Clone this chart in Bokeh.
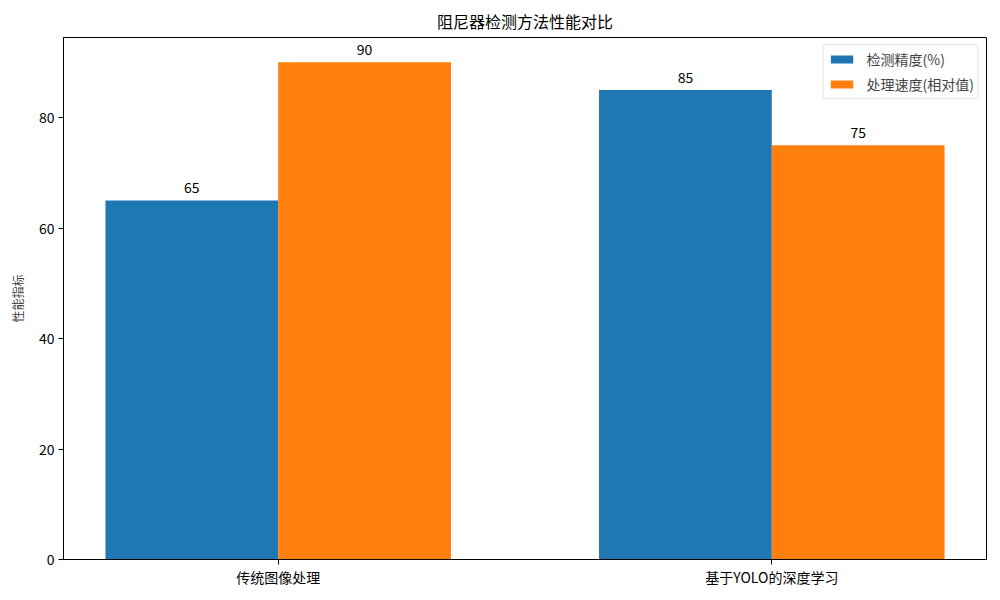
from bokeh.plotting import figure
from bokeh.models import ColumnDataSource, Range1d, FixedTicker, LabelSet, Legend, LegendItem
from bokeh.embed import file_html
from bokeh.resources import INLINE
from bokeh.core.properties import value

categories = ["传统图像处理", "基于YOLO的深度学习"]
accuracy = [65, 85]
speed = [90, 75]
series_names = ["检测精度(%)", "处理速度(相对值)"]
title_text = "阻尼器检测方法性能对比"
ylabel = "性能指标"
yticks = [0, 20, 40, 60, 80]

FONT = "Noto Sans CJK SC"
bw = 0.35
idx = list(range(len(categories)))

src_a = ColumnDataSource(dict(x=[i - bw / 2 for i in idx], y=accuracy, t=[str(v) for v in accuracy]))
src_s = ColumnDataSource(dict(x=[i + bw / 2 for i in idx], y=speed, t=[str(v) for v in speed]))

p = figure(width=992, height=592, output_backend="svg", toolbar_location=None,
           x_range=Range1d(-0.435, 1.435), y_range=Range1d(0, 94.5),
           min_border_left=63, min_border_right=6, min_border_top=37, min_border_bottom=33)

p.title.text = title_text
p.title.align = "center"
p.title.text_font = FONT
p.title.text_font_size = "16px"
p.title.text_font_style = "normal"
p.title.text_color = "black"

r1 = p.vbar(x="x", top="y", width=bw, source=src_a, fill_color="#1f77b4", line_color=None)
r2 = p.vbar(x="x", top="y", width=bw, source=src_s, fill_color="#ff7f0e", line_color=None)

for s in (src_a, src_s):
    p.add_layout(LabelSet(x="x", y="y", text="t", source=s, text_align="center",
                          text_baseline="bottom", y_offset=7, text_font=value(FONT),
                          text_font_size="14px", text_color="black"))

p.xgrid.visible = False
p.ygrid.visible = False
p.outline_line_color = "black"
p.outline_line_width = 1
p.outline_line_alpha = 1

p.xaxis.ticker = FixedTicker(ticks=idx)
p.xaxis.major_label_overrides = {i: c for i, c in enumerate(categories)}
p.yaxis.ticker = FixedTicker(ticks=yticks)
p.yaxis.axis_label = ylabel
for ax in (p.xaxis[0], p.yaxis[0]):
    ax.major_label_text_font = FONT
    ax.major_label_text_font_size = "14px"
    ax.major_label_text_color = "black"
    ax.axis_line_color = "black"
    ax.major_tick_line_color = "black"
    ax.major_tick_out = 5
    ax.major_tick_in = 0
    ax.minor_tick_line_color = None
p.yaxis.major_label_standoff = 4
p.xaxis.major_label_standoff = 2
p.yaxis.axis_label_text_font = FONT
p.yaxis.axis_label_text_font_size = "12px"
p.yaxis.axis_label_text_font_style = "normal"
p.yaxis.axis_label_standoff = 10

legend = Legend(items=[LegendItem(label=series_names[0], renderers=[r1]),
                       LegendItem(label=series_names[1], renderers=[r2])],
                location="top_right")
legend.label_text_font = FONT
legend.label_text_font_size = "14px"
legend.glyph_width = 28
legend.glyph_height = 10
legend.label_height = 20
legend.label_standoff = 11
legend.spacing = 5
legend.padding = 4
legend.margin = 7
legend.border_line_color = "#cccccc"
legend.border_radius = 3
legend.background_fill_alpha = 0.8
p.add_layout(legend)

open("out.html", "w").write(file_html(p, INLINE))
